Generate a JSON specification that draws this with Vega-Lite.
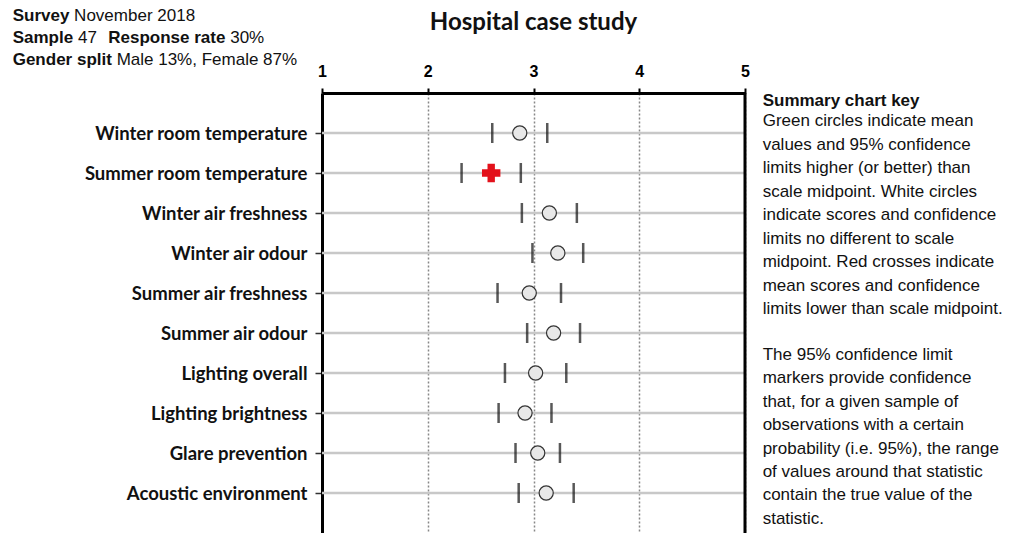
{
  "$schema": "https://vega.github.io/schema/vega-lite/v6.json",
  "width": 423,
  "height": 440,
  "autosize": {"type": "none"},
  "padding": {"left": 322, "top": 93, "right": 272, "bottom": 0},
  "background": "white",
  "config": {"view": {"stroke": null}},
  "resolve": {"scale": {"y": "independent"}, "axis": {"y": "independent"}},
  "layer": [
    {
      "data": {"values": [
        {"item": "Winter room temperature", "lower": 2.61, "mean": 2.87, "upper": 3.13, "vsMidpoint": "no different"},
        {"item": "Summer room temperature", "lower": 2.32, "mean": 2.60, "upper": 2.88, "vsMidpoint": "lower"},
        {"item": "Winter air freshness", "lower": 2.89, "mean": 3.15, "upper": 3.41, "vsMidpoint": "no different"},
        {"item": "Winter air odour", "lower": 2.99, "mean": 3.23, "upper": 3.47, "vsMidpoint": "no different"},
        {"item": "Summer air freshness", "lower": 2.66, "mean": 2.96, "upper": 3.26, "vsMidpoint": "no different"},
        {"item": "Summer air odour", "lower": 2.94, "mean": 3.19, "upper": 3.44, "vsMidpoint": "no different"},
        {"item": "Lighting overall", "lower": 2.73, "mean": 3.02, "upper": 3.31, "vsMidpoint": "no different"},
        {"item": "Lighting brightness", "lower": 2.67, "mean": 2.92, "upper": 3.17, "vsMidpoint": "no different"},
        {"item": "Glare prevention", "lower": 2.83, "mean": 3.04, "upper": 3.25, "vsMidpoint": "no different"},
        {"item": "Acoustic environment", "lower": 2.86, "mean": 3.12, "upper": 3.38, "vsMidpoint": "no different"}
      ]},
      "encoding": {
        "y": {"field": "item", "type": "nominal", "sort": null,
          "scale": {"type": "point", "padding": 1},
          "axis": {"title": null, "domain": true, "domainColor": "#000", "domainWidth": 3, "ticks": true, "tickSize": 7, "tickColor": "#333", "tickWidth": 1.5,
            "labelFont": "Lato", "labelFontWeight": "bold", "labelFontSize": 18.5, "labelColor": "#111", "labelPadding": 8, "labelLimit": 400}}
      },
      "layer": [
        {"mark": {"type": "rule", "color": "#c8c8c8", "strokeWidth": 2.5}, "encoding": {}},
        {"mark": {"type": "tick", "color": "#111", "thickness": 2.5, "size": 20},
          "encoding": {"x": {"field": "lower", "type": "quantitative",
            "scale": {"domain": [1, 5], "nice": false, "zero": false},
            "axis": {"orient": "top", "values": [1, 2, 3, 4, 5], "format": "d", "title": null, "grid": true,
              "gridDash": [2, 2], "gridColor": "#888", "gridWidth": 1.5, "domainColor": "#000", "domainWidth": 3,
              "tickColor": "#000", "tickSize": 5, "tickWidth": 2, "labelFont": "Liberation Sans", "labelFontWeight": "bold",
              "labelFontSize": 16, "labelPadding": 9, "labelColor": "#000", "labelFlush": false}}}},
        {"mark": {"type": "tick", "color": "#111", "thickness": 2.5, "size": 20},
          "encoding": {"x": {"field": "upper", "type": "quantitative"}}},
        {"transform": [{"filter": "datum.vsMidpoint === 'no different'"}],
          "mark": {"type": "circle", "fill": "#e8e8e8", "stroke": "#333", "strokeWidth": 1.2, "size": 200, "opacity": 1},
          "encoding": {"x": {"field": "mean", "type": "quantitative"}}},
        {"transform": [{"filter": "datum.vsMidpoint === 'lower'"}],
          "mark": {"type": "point", "shape": "cross", "filled": true, "color": "#e3111b", "size": 340, "opacity": 1},
          "encoding": {"x": {"field": "mean", "type": "quantitative"}}}
      ]
    },
    {
      "data": {"values": [{}]},
      "layer": [
        {"mark": {"type": "rule", "color": "#000", "strokeWidth": 3},
          "encoding": {"x": {"datum": 5, "type": "quantitative", "scale": {"domain": [1, 5], "nice": false, "zero": false}}}},
        {"mark": {"type": "text", "text": "Hospital case study", "font": "Lato", "fontSize": 24, "fontWeight": "bold", "align": "center", "baseline": "alphabetic", "color": "#111"},
          "encoding": {"x": {"datum": 3, "type": "quantitative"},
            "y": {"datum": -1.575, "type": "quantitative", "scale": {"domain": [0, 11], "reverse": true, "nice": false, "zero": false}, "axis": null}}},
        {"mark": {"type": "text", "text": "Survey", "font": "Liberation Sans", "fontSize": 17, "fontWeight": "bold", "align": "left", "baseline": "alphabetic", "color": "#111"},
          "encoding": {"x": {"datum": -1.925, "type": "quantitative"}, "y": {"datum": -1.8075, "type": "quantitative"}}},
        {"mark": {"type": "text", "text": "November 2018", "font": "Liberation Sans", "fontSize": 17, "align": "left", "baseline": "alphabetic", "color": "#111"},
          "encoding": {"x": {"datum": -1.344, "type": "quantitative"}, "y": {"datum": -1.8075, "type": "quantitative"}}},
        {"mark": {"type": "text", "text": "Sample", "font": "Liberation Sans", "fontSize": 17, "fontWeight": "bold", "align": "left", "baseline": "alphabetic", "color": "#111"},
          "encoding": {"x": {"datum": -1.925, "type": "quantitative"}, "y": {"datum": -1.2575, "type": "quantitative"}}},
        {"mark": {"type": "text", "text": "47", "font": "Liberation Sans", "fontSize": 17, "align": "left", "baseline": "alphabetic", "color": "#111"},
          "encoding": {"x": {"datum": -1.308, "type": "quantitative"}, "y": {"datum": -1.2575, "type": "quantitative"}}},
        {"mark": {"type": "text", "text": "Response rate", "font": "Liberation Sans", "fontSize": 17, "fontWeight": "bold", "align": "left", "baseline": "alphabetic", "color": "#111"},
          "encoding": {"x": {"datum": -1.021, "type": "quantitative"}, "y": {"datum": -1.2575, "type": "quantitative"}}},
        {"mark": {"type": "text", "text": "30%", "font": "Liberation Sans", "fontSize": 17, "align": "left", "baseline": "alphabetic", "color": "#111"},
          "encoding": {"x": {"datum": 0.132, "type": "quantitative"}, "y": {"datum": -1.2575, "type": "quantitative"}}},
        {"mark": {"type": "text", "text": "Gender split", "font": "Liberation Sans", "fontSize": 17, "fontWeight": "bold", "align": "left", "baseline": "alphabetic", "color": "#111"},
          "encoding": {"x": {"datum": -1.925, "type": "quantitative"}, "y": {"datum": -0.7, "type": "quantitative"}}},
        {"mark": {"type": "text", "text": "Male 13%, Female 87%", "font": "Liberation Sans", "fontSize": 17, "align": "left", "baseline": "alphabetic", "color": "#111"},
          "encoding": {"x": {"datum": -0.942, "type": "quantitative"}, "y": {"datum": -0.7, "type": "quantitative"}}},
        {"mark": {"type": "text", "text": "Summary chart key", "font": "Liberation Sans", "fontSize": 17, "fontWeight": "bold", "align": "left", "baseline": "alphabetic", "color": "#111"},
          "encoding": {"x": {"datum": 5.167, "type": "quantitative"}, "y": {"datum": 0.3175, "type": "quantitative"}}},
        {"mark": {"type": "text", "text": ["Green circles indicate mean", "values and 95% confidence", "limits higher (or better) than", "scale midpoint. White circles", "indicate scores and confidence", "limits no different to scale", "midpoint. Red crosses indicate", "mean scores and confidence", "limits lower than scale midpoint."],
            "font": "Liberation Sans", "fontSize": 17, "lineHeight": 23.5, "align": "left", "baseline": "alphabetic", "color": "#111"},
          "encoding": {"x": {"datum": 5.167, "type": "quantitative"}, "y": {"datum": 0.8325, "type": "quantitative"}}},
        {"mark": {"type": "text", "text": ["The 95% confidence limit", "markers provide confidence", "that, for a given sample of", "observations with a certain", "probability (i.e. 95%), the range", "of values around that statistic", "contain the true value of the", "statistic."],
            "font": "Liberation Sans", "fontSize": 17, "lineHeight": 23.4, "align": "left", "baseline": "alphabetic", "color": "#111"},
          "encoding": {"x": {"datum": 5.167, "type": "quantitative"}, "y": {"datum": 6.675, "type": "quantitative"}}}
      ]
    }
  ]
}
